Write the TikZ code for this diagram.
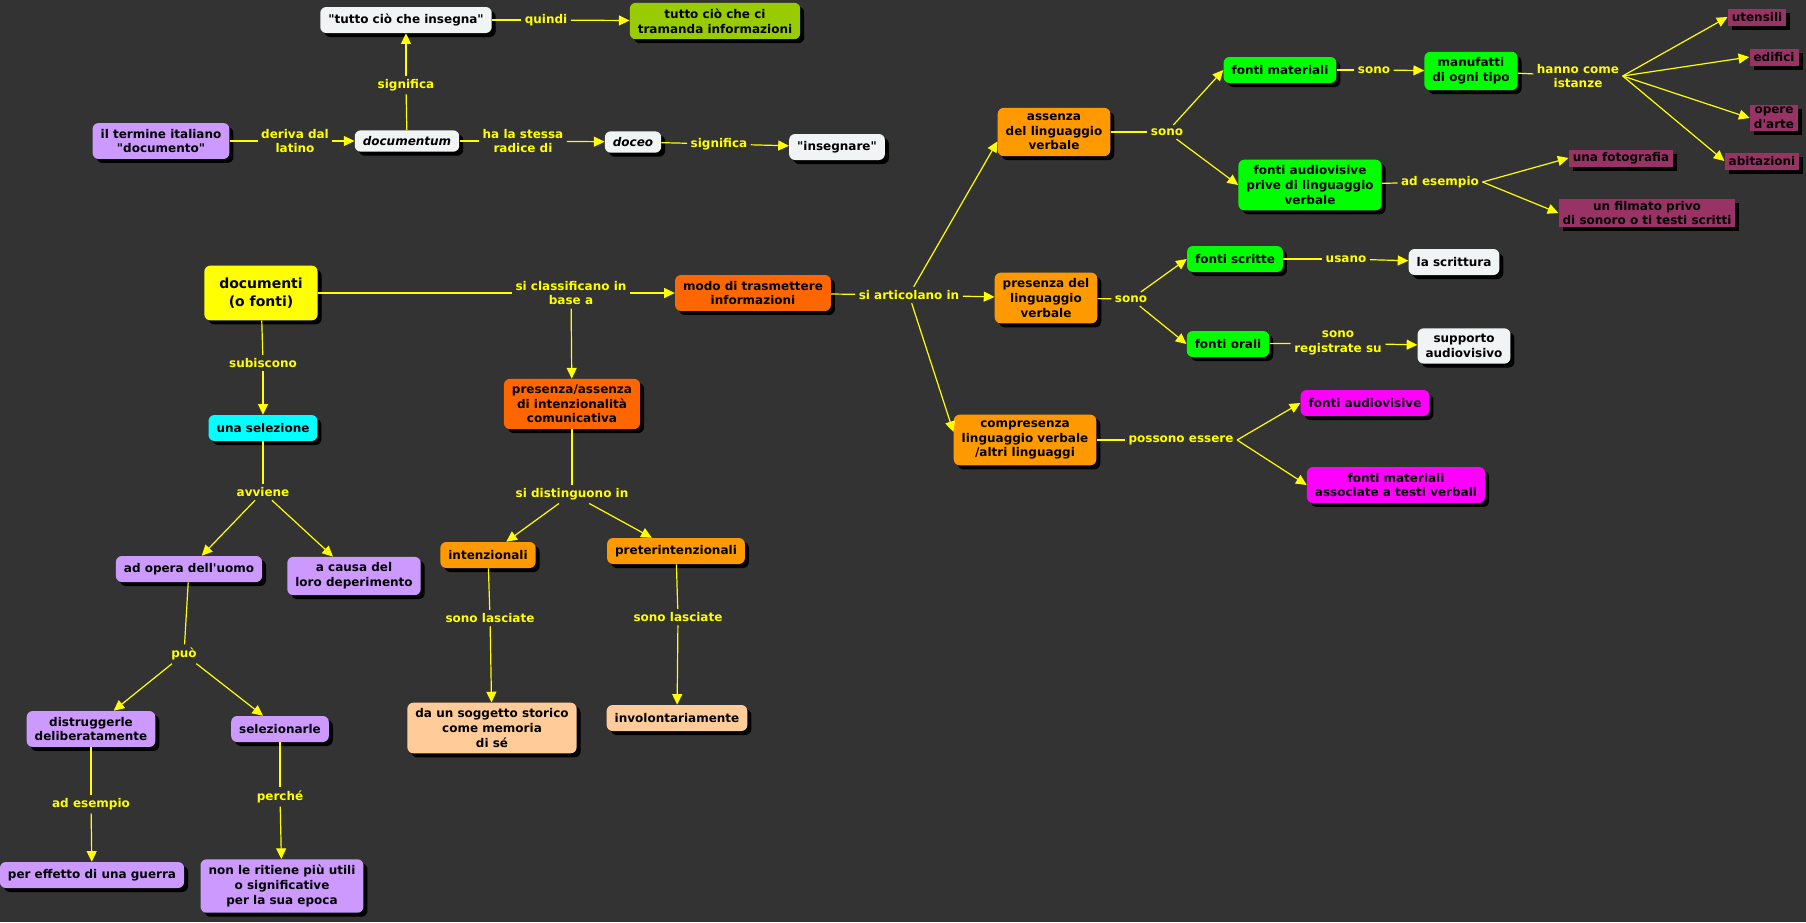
\documentclass[tikz,border=0pt]{standalone}
\usepackage{fontspec}
\setmainfont{DejaVu Sans}
\usetikzlibrary{arrows.meta,shadows}

\definecolor{sfondo}{RGB}{51,51,51}
\definecolor{giallo}{RGB}{255,255,0}
\definecolor{bianco}{RGB}{240,244,244}
\definecolor{lilla}{RGB}{204,153,255}
\definecolor{oliva}{RGB}{153,204,0}
\definecolor{rosso}{RGB}{255,102,0}
\definecolor{arancio}{RGB}{255,153,0}
\definecolor{ciano}{RGB}{0,255,255}
\definecolor{pesca}{RGB}{255,204,153}
\definecolor{verde}{RGB}{0,255,0}
\definecolor{bordeaux}{RGB}{153,51,102}
\definecolor{fucsia}{RGB}{255,0,255}

\begin{document}
\begin{tikzpicture}[
  x=0.75pt, y=-0.75pt,
  font=\fontsize{9}{11}\selectfont\bfseries,
  >={Triangle[length=8pt,width=7.5pt]},
  cbox/.style={
    rounded corners=4.5pt,
    align=center,
    inner xsep=6pt,
    inner ysep=4.5pt,
    minimum height=19.5pt,
    text=black,
    drop shadow={shadow xshift=3pt,shadow yshift=-3pt,fill=black,opacity=1}
  },
  ibox/.style={
    fill=bordeaux,
    align=center,
    inner xsep=3pt,
    inner ysep=1.5pt,
    minimum height=12.75pt,
    text=black,
    drop shadow={shadow xshift=3pt,shadow yshift=-3pt,fill=black,opacity=1}
  },
  lbl/.style={text=giallo, align=center, inner sep=2.5pt},
  conn/.style={draw=giallo, line width=0.9pt}
]
\useasboundingbox[fill=sfondo] (0,0) rectangle (1806,922);

\node[cbox,fill=bianco] (tci) at (406,20) {\textquotedbl tutto ciò che insegna\textquotedbl};
\node[lbl] (lqui) at (546,20) {quindi};
\node[cbox,fill=oliva] (tram) at (715,21) {tutto ciò che ci\\tramanda informazioni};
\node[lbl] (lsig1) at (406,85) {significa};
\node[cbox,fill=lilla] (term) at (161,141) {il termine italiano\\\textquotedbl documento\textquotedbl};
\node[lbl] (lder) at (295,141) {deriva dal\\latino};
\node[cbox,fill=bianco,minimum height=16pt] (docu) at (407,141) {\itshape documentum};
\node[lbl] (lrad) at (523,141) {ha la stessa\\radice di};
\node[cbox,fill=bianco,minimum height=16pt] (doce) at (633,142) {\itshape doceo};
\node[lbl] (lsig2) at (719,144) {significa};
\node[cbox,fill=bianco] (inse) at (837,147) {\textquotedbl insegnare\textquotedbl};

\node[cbox,fill=giallo,minimum width=85pt,minimum height=41pt,font=\fontsize{10.5}{13}\selectfont\bfseries] (docs) at (261,293) {documenti\\(o fonti)};
\node[lbl] (lcla) at (571,293) {si classificano in\\base a};
\node[cbox,fill=rosso] (modo) at (753,293) {modo di trasmettere\\informazioni};
\node[lbl] (lart) at (909,295) {si articolano in};
\node[lbl] (lsub) at (263,363) {subiscono};
\node[cbox,fill=ciano] (sel) at (263,428) {una selezione};
\node[cbox,fill=rosso] (pres) at (572,404) {presenza/assenza\\di intenzionalità\\comunicativa};
\node[lbl] (lavv) at (263,492) {avviene};
\node[lbl] (ldis) at (572,494) {si distinguono in};
\node[cbox,fill=lilla] (opera) at (189,569) {ad opera dell\textquotesingle uomo};
\node[cbox,fill=lilla] (causa) at (354,576) {a causa del\\loro deperimento};
\node[cbox,fill=arancio] (intz) at (488,555) {intenzionali};
\node[cbox,fill=arancio] (pret) at (676,551) {preterintenzionali};
\node[lbl] (lpuo) at (184,654) {può};
\node[lbl] (lsl1) at (490,618) {sono lasciate};
\node[lbl] (lsl2) at (678,617) {sono lasciate};
\node[cbox,fill=lilla] (dist) at (91,729) {distruggerle\\deliberatamente};
\node[cbox,fill=lilla] (selz) at (280,729) {selezionarle};
\node[cbox,fill=pesca] (sogg) at (492,728) {da un soggetto storico\\come memoria\\di sé};
\node[cbox,fill=pesca] (invo) at (677,718) {involontariamente};
\node[lbl] (lesa) at (91,804) {ad esempio};
\node[lbl] (lper) at (280,797) {perché};
\node[cbox,fill=lilla] (guer) at (92,875) {per effetto di una guerra};
\node[cbox,fill=lilla] (util) at (282,886) {non le ritiene più utili\\o significative\\per la sua epoca};

\node[cbox,fill=arancio] (asse) at (1054,132) {assenza\\del linguaggio\\verbale};
\node[lbl] (lso1) at (1167,132) {sono};
\node[cbox,fill=verde] (fmat) at (1280,70) {fonti materiali};
\node[lbl] (lso2) at (1374,70) {sono};
\node[cbox,fill=verde] (manu) at (1471,71) {manufatti\\di ogni tipo};
\node[lbl] (lhan) at (1578,76) {hanno come\\istanze};
\node[ibox] (ute) at (1757,17) {utensili};
\node[ibox] (edi) at (1774,57) {edifici};
\node[ibox] (ope) at (1774,118) {opere\\d\textquotesingle arte};
\node[ibox] (abi) at (1762,161) {abitazioni};
\node[cbox,fill=verde] (faud) at (1310,185) {fonti audiovisive\\prive di linguaggio\\verbale};
\node[lbl] (lese) at (1440,182) {ad esempio};
\node[ibox] (foto) at (1621,158) {una fotografia};
\node[ibox] (film) at (1647,213) {un filmato privo\\di sonoro o ti testi scritti};
\node[cbox,fill=arancio] (pver) at (1046,298) {presenza del\\linguaggio\\verbale};
\node[lbl] (lso3) at (1131,299) {sono};
\node[cbox,fill=verde] (fscr) at (1235,259) {fonti scritte};
\node[lbl] (lusa) at (1346,259) {usano};
\node[cbox,fill=bianco] (scri) at (1454,262) {la scrittura};
\node[cbox,fill=verde] (fora) at (1228,344) {fonti orali};
\node[lbl] (lreg) at (1338,343) {sono\\registrate su};
\node[cbox,fill=bianco] (supp) at (1464,346) {supporto\\audiovisivo};
\node[cbox,fill=arancio] (comp) at (1025,440) {compresenza\\linguaggio verbale\\/altri linguaggi};
\node[lbl] (lpos) at (1181,440) {possono essere};
\node[cbox,fill=fucsia] (fau2) at (1365,403) {fonti audiovisive};
\node[cbox,fill=fucsia] (fma2) at (1396,485) {fonti materiali\\associate a testi verbali};

\draw[conn] (tci) -- (lqui);
\draw[conn,->] (lqui) -- (tram);
\draw[conn] (docu) -- (lsig1);
\draw[conn,->] (lsig1) -- (tci);
\draw[conn] (term) -- (lder);
\draw[conn,->] (lder) -- (docu);
\draw[conn] (docu) -- (lrad);
\draw[conn,->] (lrad) -- (doce);
\draw[conn] (doce) -- (lsig2);
\draw[conn,->] (lsig2) -- (inse);

\draw[conn] (docs) -- (lcla);
\draw[conn,->] (lcla) -- (modo);
\draw[conn,->] (lcla) -- (pres);
\draw[conn] (modo) -- (lart);
\draw[conn,->] (lart) -- ([yshift=-7pt]asse.west);
\draw[conn,->] (lart) -- (pver);
\draw[conn,->] (lart) -- ([yshift=6pt]comp.west);
\draw[conn] (docs) -- (lsub);
\draw[conn,->] (lsub) -- (sel);
\draw[conn] (sel) -- (lavv);
\draw[conn,->] (lavv) -- (opera);
\draw[conn,->] (lavv) -- (causa);
\draw[conn] (pres) -- (ldis);
\draw[conn,->] (ldis) -- (intz);
\draw[conn,->] (ldis) -- (pret);
\draw[conn] (opera) -- (lpuo);
\draw[conn,->] (lpuo) -- (dist);
\draw[conn,->] (lpuo) -- (selz);
\draw[conn] (intz) -- (lsl1);
\draw[conn,->] (lsl1) -- (sogg);
\draw[conn] (pret) -- (lsl2);
\draw[conn,->] (lsl2) -- (invo);
\draw[conn] (dist) -- (lesa);
\draw[conn,->] (lesa) -- (guer);
\draw[conn] (selz) -- (lper);
\draw[conn,->] (lper) -- (util);

\draw[conn] (asse) -- (lso1);
\draw[conn,->] (lso1) -- (fmat.west);
\draw[conn,->] (lso1) -- (faud.west);
\draw[conn] (fmat) -- (lso2);
\draw[conn,->] (lso2) -- (manu);
\draw[conn] (manu) -- (lhan);
\draw[conn,->] (lhan.east) -- (ute.west);
\draw[conn,->] (lhan.east) -- (edi.west);
\draw[conn,->] (lhan.east) -- (ope.west);
\draw[conn,->] (lhan.east) -- (abi.west);
\draw[conn] (faud) -- (lese);
\draw[conn,->] (lese.east) -- (foto.west);
\draw[conn,->] (lese.east) -- (film.west);
\draw[conn] (pver) -- (lso3);
\draw[conn,->] (lso3) -- (fscr.west);
\draw[conn,->] (lso3) -- (fora.west);
\draw[conn] (fscr) -- (lusa);
\draw[conn,->] (lusa) -- (scri);
\draw[conn] (fora) -- (lreg);
\draw[conn,->] (lreg) -- (supp);
\draw[conn] (comp) -- (lpos);
\draw[conn,->] (lpos.east) -- (fau2.west);
\draw[conn,->] (lpos.east) -- (fma2.west);
\end{tikzpicture}
\end{document}
